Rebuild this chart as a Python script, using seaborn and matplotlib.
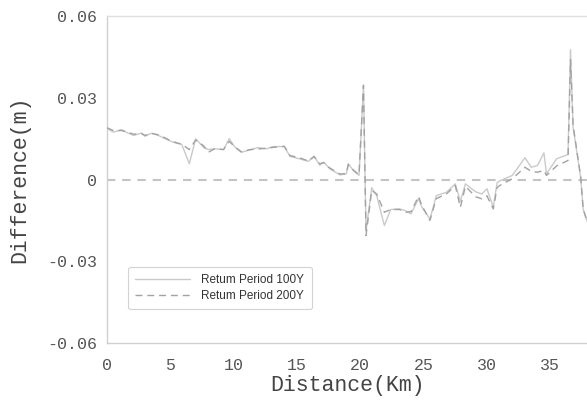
import matplotlib
matplotlib.use("Agg")
import matplotlib.pyplot as plt
import seaborn as sns
import pandas as pd
from matplotlib.ticker import MultipleLocator, FuncFormatter

distance = [0.0, 0.5, 1.15, 1.6, 2.1, 2.7, 3.0, 3.5, 4.05, 4.5, 5.0, 5.5, 5.9, 6.5,
            7.0, 7.6, 8.0, 8.5, 9.2, 9.65, 10.1, 10.6, 11.3, 11.9, 12.6, 13.1, 14.0,
            14.45, 15.2, 15.9, 16.35, 16.8, 17.1, 17.6, 18.4, 18.9, 19.05, 19.45, 19.9,
            20.25, 20.45, 20.9, 21.3, 21.9, 22.4, 23.1, 23.6, 24.0, 24.6, 24.85, 25.5,
            26.0, 26.8, 27.5, 27.9, 28.3, 29.1, 29.6, 30.0, 30.5, 30.8, 31.0, 32.0,
            33.0, 33.5, 34.0, 34.5, 34.7, 35.5, 36.4, 36.6, 36.8, 37.4, 37.6, 38.0]

rp100 = [0.0187, 0.0174, 0.0183, 0.0172, 0.0162, 0.0170, 0.0159, 0.0170, 0.0162, 0.0152,
         0.0141, 0.0133, 0.0129, 0.0058, 0.0150, 0.0119, 0.0110, 0.0113, 0.0110, 0.0150,
         0.0119, 0.0100, 0.0109, 0.0117, 0.0113, 0.0121, 0.0121, 0.0085, 0.0076, 0.0067,
         0.0086, 0.0052, 0.0064, 0.0039, 0.0017, 0.0021, 0.0058, 0.0033, 0.0015,
         0.0346, -0.0190, -0.0030, -0.0060, -0.0169, -0.0110, -0.0108, -0.0115, -0.0126,
         -0.0070, -0.0100, -0.0145, -0.0059, -0.0047, -0.0016, -0.0080, -0.0016, -0.0045,
         -0.0053, -0.0034, -0.0102, -0.0012, -0.0005, 0.0015, 0.0080, 0.0045, 0.0052,
         0.0098, 0.0021, 0.0076, 0.0092, 0.0477, 0.0193, 0.0008, -0.0110, -0.0165]

rp200 = [0.0190, 0.0180, 0.0180, 0.0175, 0.0166, 0.0170, 0.0162, 0.0170, 0.0164, 0.0155,
         0.0143, 0.0135, 0.0130, 0.0110, 0.0145, 0.0125, 0.0100, 0.0113, 0.0110, 0.0140,
         0.0120, 0.0102, 0.0110, 0.0112, 0.0115, 0.0118, 0.0122, 0.0088, 0.0080, 0.0068,
         0.0084, 0.0058, 0.0062, 0.0042, 0.0020, 0.0022, 0.0055, 0.0035, 0.0018,
         0.0346, -0.0206, -0.0040, -0.0053, -0.0120, -0.0110, -0.0110, -0.0120, -0.0118,
         -0.0062, -0.0095, -0.0150, -0.0070, -0.0053, -0.0022, -0.0102, -0.0025, -0.0063,
         -0.0071, -0.0060, -0.0108, -0.0030, -0.0022, 0.0003, 0.0045, 0.0030, 0.0027,
         0.0033, 0.0015, 0.0050, 0.0070, 0.0440, 0.0200, 0.0010, -0.0110, -0.0165]

y_ticks = [-0.06, -0.03, 0.0, 0.03, 0.06]
x_ticks = [0, 5, 10, 15, 20, 25, 30, 35]

df = pd.DataFrame({"Distance": distance, "100Y": rp100, "200Y": rp200})

sns.set_style("white")
plt.rcParams["font.family"] = ["Liberation Mono", "DejaVu Sans"]

fig = plt.figure(figsize=(5.87, 4.03), dpi=100)
ax = fig.add_axes([0.1823, 0.149, 1.0 - 0.1823, 0.811])

ax.axhline(0, color="#c4c4c4", lw=1.5, dashes=(4, 3.3), zorder=1)
sns.lineplot(data=df, x="Distance", y="100Y", ax=ax, color="#cacaca", lw=1.0,
             label="Retum Period 100Y", zorder=2)
sns.lineplot(data=df, x="Distance", y="200Y", ax=ax, color="#a2a2a2", lw=1.0,
             label="Retum Period 200Y", zorder=3)
ax.lines[-1].set_dashes((5, 3.5))

ax.set_xlim(0, 37.9)
ax.set_ylim(-0.06, 0.06)
ax.set_xticks(x_ticks)
ax.set_yticks(y_ticks)
ax.xaxis.set_minor_locator(MultipleLocator(2.5))
ax.yaxis.set_minor_locator(MultipleLocator(0.015))
ax.yaxis.set_major_formatter(FuncFormatter(
    lambda v, p: "0" if abs(v) < 1e-9 else ("-" if v < 0 else "") + "0." + f"{abs(v):.2f}"[2:]))

ax.tick_params(axis="both", which="major", direction="in", length=4, width=0.8,
               color="#bbbbbb", labelsize=12, labelcolor="#555555")
ax.tick_params(axis="both", which="minor", direction="in", length=2.5, width=0.8,
               color="#bbbbbb")
ax.tick_params(axis="x", which="major", pad=11)
ax.tick_params(axis="y", which="major", pad=7)
for side in ["left", "bottom", "top"]:
    ax.spines[side].set_color("#d0d0d0")
    ax.spines[side].set_linewidth(1.0)
ax.spines["top"].set_color("#e0e0e0")
ax.spines["right"].set_visible(False)

ax.set_xlabel("Distance(Km)", fontsize=15.5, color="#444444", labelpad=1)
ax.set_ylabel("Difference(m)", fontsize=15.5, color="#444444", labelpad=12)

leg = ax.legend(loc="lower left", bbox_to_anchor=(0.032, 0.085), frameon=True,
                fancybox=True, prop={"family": "Liberation Sans", "size": 8.5},
                handlelength=4.6, handletextpad=1.0, borderpad=0.6,
                labelspacing=0.35, markerfirst=True)
leg.get_frame().set_edgecolor("#c8c8c8")
leg.get_frame().set_linewidth(0.8)
for t in leg.get_texts():
    t.set_color("#333333")

fig.savefig("out.png", dpi=100)
